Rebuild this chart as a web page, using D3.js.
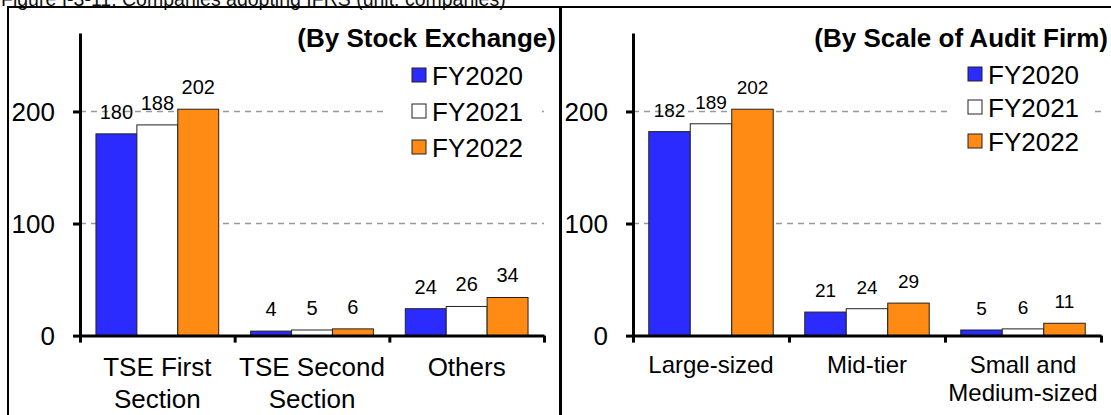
<!DOCTYPE html>
<html>
<head>
<meta charset="utf-8">
<script src="https://cdn.jsdelivr.net/npm/d3@7"></script>
<style>
  html, body { margin: 0; padding: 0; background: #fff; }
  svg { display: block; font-family: "Liberation Sans", Arial, Helvetica, sans-serif; }
</style>
</head>
<body>
<svg id="chart" width="1111" height="415"></svg>
<script>
// Series shared by both panels
const seriesNames = ["FY2020", "FY2021", "FY2022"];
const seriesColors = ["#2B2BFF", "#FFFFFF", "#FF8A14"];

// Panel 1: by stock exchange
const exchangeCategories = ["TSE First Section", "TSE Second Section", "Others"];
const exchangeLabelLines = [["TSE First", "Section"], ["TSE Second", "Section"], ["Others"]];
const exchangeFY2020 = [180, 4, 24];
const exchangeFY2021 = [188, 5, 26];
const exchangeFY2022 = [202, 6, 34];

// Panel 2: by scale of audit firm
const auditCategories = ["Large-sized", "Mid-tier", "Small and Medium-sized"];
const auditLabelLines = [["Large-sized"], ["Mid-tier"], ["Small and", "Medium-sized"]];
const auditFY2020 = [182, 21, 5];
const auditFY2021 = [189, 24, 6];
const auditFY2022 = [202, 29, 11];

// Value axis
const yTickValues = [0, 100, 200];
const yMax = 270;

const captionText = "Figure I-3-11: Companies adopting IFRS (unit: companies)";

const svg = d3.select("#chart");

// Figure caption (sits above the framed panels)
svg.append("text")
  .attr("x", 1).attr("y", 6)
  .attr("font-size", 19.5).attr("fill", "#111")
  .text(captionText);

// Panel frames
svg.append("rect").attr("x", 8).attr("y", 7).attr("width", 552).attr("height", 440)
  .attr("fill", "none").attr("stroke", "#000").attr("stroke-width", 2);
svg.append("rect").attr("x", 561).attr("y", 7).attr("width", 560).attr("height", 440)
  .attr("fill", "none").attr("stroke", "#000").attr("stroke-width", 2);

function drawPanel(cfg) {
  const g = svg.append("g");
  const y = d3.scaleLinear().domain([0, yMax]).range([cfg.yZero, cfg.yTop]);
  const xOuter = d3.scaleBand().domain(cfg.categories).range([cfg.x0, cfg.x1]).padding(0);
  const xInner = d3.scaleBand().domain(seriesNames)
    .range([0, xOuter.bandwidth()]).paddingInner(0).paddingOuter(cfg.barPad);
  const xEdges = d3.scaleLinear().domain([0, cfg.categories.length]).range([cfg.x0, cfg.x1]);

  // dashed gridlines
  g.append("g").selectAll("line")
    .data(yTickValues.filter(v => v > 0))
    .join("line")
      .attr("x1", cfg.x0).attr("x2", cfg.x1)
      .attr("y1", d => y(d)).attr("y2", d => y(d))
      .attr("stroke", "#999").attr("stroke-width", 1.5)
      .attr("stroke-dasharray", "6,5");

  // legend (white box hides the gridline behind it)
  const lg = g.append("g");
  lg.append("rect")
    .attr("x", cfg.legendBox[0]).attr("y", cfg.legendBox[1])
    .attr("width", cfg.legendBox[2]).attr("height", cfg.legendBox[3])
    .attr("fill", "#fff");
  seriesNames.forEach((name, i) => {
    lg.append("rect")
      .attr("x", cfg.legendX).attr("y", cfg.legendBaselines[i] - 17)
      .attr("width", 14).attr("height", 14)
      .attr("fill", seriesColors[i]).attr("stroke", "#222").attr("stroke-width", 1);
    lg.append("text")
      .attr("x", cfg.legendX + 20).attr("y", cfg.legendBaselines[i])
      .attr("font-size", 26).attr("fill", "#000")
      .text(name);
  });

  // bars
  const rows = cfg.categories.map((c, ci) => ({
    category: c,
    values: seriesNames.map((s, si) => ({ series: s, si, value: cfg.series[si][ci] }))
  }));
  const groups = g.append("g").selectAll("g")
    .data(rows).join("g")
      .attr("transform", d => `translate(${xOuter(d.category)},0)`);
  groups.selectAll("rect")
    .data(d => d.values).join("rect")
      .attr("x", d => xInner(d.series))
      .attr("width", xInner.bandwidth())
      .attr("y", d => y(d.value))
      .attr("height", d => y(0) - y(d.value))
      .attr("fill", d => seriesColors[d.si])
      .attr("stroke", "#222").attr("stroke-width", 1);
  groups.selectAll("text")
    .data(d => d.values).join("text")
      .attr("x", d => xInner(d.series) + xInner.bandwidth() / 2)
      .attr("y", d => y(d.value) - 15)
      .attr("text-anchor", "middle")
      .attr("font-size", cfg.valueFont).attr("fill", "#000")
      .text(d => d.value);

  // value axis
  const yAxis = g.append("g")
    .attr("transform", `translate(${cfg.x0},0)`)
    .call(d3.axisLeft(y).tickValues(yTickValues).tickSize(7).tickSizeOuter(0).tickPadding(18));
  yAxis.select(".domain").attr("stroke", "#000").attr("stroke-width", 3);
  yAxis.selectAll(".tick line").attr("stroke", "#000").attr("stroke-width", 3);
  yAxis.selectAll(".tick text")
    .attr("font-size", 26).attr("font-family", null).attr("fill", "#000").attr("dy", "0.36em");

  // category axis with ticks at group boundaries
  const xAxis = g.append("g")
    .attr("transform", `translate(0,${cfg.yZero})`)
    .call(d3.axisBottom(xEdges).tickValues(d3.range(cfg.categories.length + 1))
      .tickSize(7).tickSizeOuter(0).tickFormat(""));
  xAxis.select(".domain").attr("stroke", "#000").attr("stroke-width", 3);
  xAxis.selectAll(".tick line").attr("stroke", "#000").attr("stroke-width", 3);

  // category labels
  const cl = g.append("g").selectAll("text")
    .data(cfg.categories).join("text")
      .attr("text-anchor", "middle")
      .attr("font-size", cfg.catFont).attr("fill", "#000");
  cl.each(function (c, i) {
    const t = d3.select(this);
    cfg.labelLines[i].forEach((line, li) => {
      t.append("tspan")
        .attr("x", xOuter(c) + xOuter.bandwidth() / 2)
        .attr("y", cfg.catBaselines[li])
        .text(line);
    });
  });

  // panel title
  g.append("text")
    .attr("x", cfg.titleX).attr("y", 46.5)
    .attr("text-anchor", "end")
    .attr("font-size", 26).attr("font-weight", "bold").attr("fill", "#000")
    .text(cfg.title);
}

drawPanel({
  x0: 80, x1: 544, yZero: 335.6, yTop: 33, barPad: 0.39,
  categories: exchangeCategories, labelLines: exchangeLabelLines,
  series: [exchangeFY2020, exchangeFY2021, exchangeFY2022],
  valueFont: 20, catFont: 26, catBaselines: [376, 408],
  legendX: 412, legendBaselines: [85, 121, 157], legendBox: [384, 60, 158, 105],
  title: "(By Stock Exchange)", titleX: 556
});

drawPanel({
  x0: 633, x1: 1101, yZero: 335.6, yTop: 33, barPad: 0.38,
  categories: auditCategories, labelLines: auditLabelLines,
  series: [auditFY2020, auditFY2021, auditFY2022],
  valueFont: 19, catFont: 24, catBaselines: [373, 401],
  legendX: 968, legendBaselines: [84, 117, 151], legendBox: [950, 60, 143, 100],
  title: "(By Scale of Audit Firm)", titleX: 1108
});
</script>
</body>
</html>
